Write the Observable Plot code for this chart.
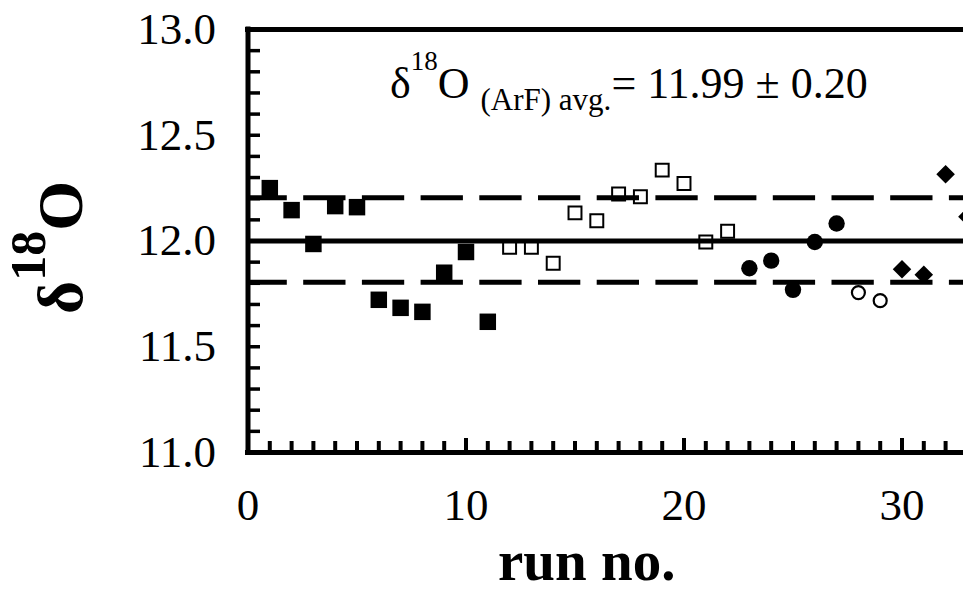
<!DOCTYPE html>
<html>
<head>
<meta charset="utf-8">
<script src="https://cdn.jsdelivr.net/npm/d3@7"></script>
<script src="https://cdn.jsdelivr.net/npm/@observablehq/plot@0.6"></script>
<style>
  html, body { margin: 0; padding: 0; background: white; overflow: hidden; }
  #chart svg { display: block; }
</style>
</head>
<body>
<div id="chart"></div>
<script>
// ---- data ----
const runsFilledSquare = [1, 2, 3, 4, 5, 6, 7, 8, 9, 10, 11];
const d18OFilledSquare = [12.25, 12.146, 11.986, 12.165, 12.16, 11.722, 11.684, 11.665, 11.85, 11.948, 11.618];

const runsOpenSquare = [12, 13, 14, 15, 16, 17, 18, 19, 20, 21, 22];
const d18OOpenSquare = [11.97, 11.97, 11.895, 12.133, 12.096, 12.222, 12.209, 12.335, 12.272, 11.995, 12.046];

const runsFilledCircle = [23, 24, 25, 26, 27];
const d18OFilledCircle = [11.871, 11.907, 11.769, 11.995, 12.083];

const runsOpenCircle = [28, 29];
const d18OOpenCircle = [11.756, 11.718];

const runsDiamond = [30, 31, 32, 33];
const d18ODiamond = [11.866, 11.84, 12.316, 12.115];

const meanValue = 12.0;
const upperLimit = 12.205;
const lowerLimit = 11.805;

const xTickValues = [0, 10, 20, 30];
const yTickValues = [11.0, 11.5, 12.0, 12.5, 13.0];
const xMinorTicks = d3.range(1, 33).filter(d => d % 10 !== 0);
const yMinorTicks = d3.range(111, 130).map(d => d / 10);

const rows = (runs, vals) => runs.map((r, i) => ({run: r, d18O: vals[i]}));

// ---- layout ----
const W = 963, H = 593;
const mL = 247.5, mR = 0, mT = 29, mB = 141;
const plotW = W - mL - mR, plotH = H - mT - mB;
const xMax = (W - mL) / 21.8;

const plot = Plot.plot({
  width: W,
  height: H,
  marginLeft: mL,
  marginRight: mR,
  marginTop: mT,
  marginBottom: mB,
  style: {fontFamily: "'Liberation Serif', 'Times New Roman', serif", background: "white", color: "black"},
  x: {domain: [0, xMax], label: null},
  y: {domain: [11, 13], label: null},
  marks: [
    // data markers
    Plot.dot(rows(runsFilledSquare, d18OFilledSquare), {x: "run", y: "d18O", symbol: "square", r: 9.3, fill: "black", stroke: "none"}),
    Plot.dot(rows(runsOpenSquare, d18OOpenSquare), {x: "run", y: "d18O", symbol: "square", r: 7.3, fill: "none", stroke: "black", strokeWidth: 2}),
    Plot.dot(rows(runsFilledCircle, d18OFilledCircle), {x: "run", y: "d18O", symbol: "circle", r: 8.2, fill: "black", stroke: "none"}),
    Plot.dot(rows(runsOpenCircle, d18OOpenCircle), {x: "run", y: "d18O", symbol: "circle", r: 6.5, fill: "none", stroke: "black", strokeWidth: 2.2}),
    Plot.dot(rows(runsDiamond, d18ODiamond), {x: "run", y: "d18O", symbol: "square", rotate: 45, r: 7.4, fill: "black", stroke: "none"}),
    // mean and limit lines
    Plot.ruleY([meanValue], {stroke: "black", strokeWidth: 5}),
    Plot.ruleY([upperLimit, lowerLimit], {stroke: "black", strokeWidth: 5, strokeDasharray: "42.3,16.4", strokeDashoffset: 3}),
    // inward ticks
    Plot.tickY(yMinorTicks, {y: d => d, insetRight: plotW - 12.5, strokeWidth: 3.5}),
    Plot.tickX(xMinorTicks, {x: d => d, insetTop: plotH - 11, strokeWidth: 4}),
    Plot.tickX(xTickValues.slice(1), {x: d => d, insetTop: plotH - 14, strokeWidth: 4}),
    // frame (left, top, bottom)
    Plot.ruleX([0], {stroke: "black", strokeWidth: 5, strokeLinecap: "square"}),
    Plot.ruleY([11, 13], {stroke: "black", strokeWidth: 5, strokeLinecap: "square"}),
    // tick labels
    Plot.axisY(yTickValues, {tickSize: 0, tickPadding: 32, fontSize: 45, tickFormat: d3.format(".1f"), label: null}),
    Plot.axisX(xTickValues, {tickSize: 0, tickPadding: 36, fontSize: 45, tickFormat: d => String(d), label: null})
  ]
});

document.getElementById("chart").appendChild(plot);

const svg = d3.select(plot);
const serif = "'Liberation Serif', 'Times New Roman', serif";

// annotation
const ann = svg.append("text")
  .attr("x", 390).attr("y", 98)
  .attr("text-anchor", "start")
  .attr("font-family", serif).attr("font-size", 44).attr("fill", "black");
ann.append("tspan").text("δ");
ann.append("tspan").attr("font-size", 27).attr("dy", -28).text("18");
ann.append("tspan").attr("dy", 28).text("O ");
ann.append("tspan").attr("font-size", 31).attr("dy", 12).text("(ArF) avg.");
ann.append("tspan").attr("dy", -12).text("= 11.99 ± 0.20");

// y axis label
const yl = svg.append("text")
  .attr("transform", "translate(82,314) rotate(-90)")
  .attr("text-anchor", "start")
  .attr("font-family", serif).attr("font-weight", "bold").attr("font-size", 64).attr("fill", "black");
yl.append("tspan").text("δ");
yl.append("tspan").attr("font-size", 50).attr("dy", -37).text("18");
yl.append("tspan").attr("dy", 37).text("O");

// x axis label
svg.append("text")
  .attr("x", 498).attr("y", 580)
  .attr("text-anchor", "start")
  .attr("font-family", serif).attr("font-weight", "bold").attr("font-size", 57).attr("fill", "black")
  .text("run no.");
</script>
</body>
</html>
